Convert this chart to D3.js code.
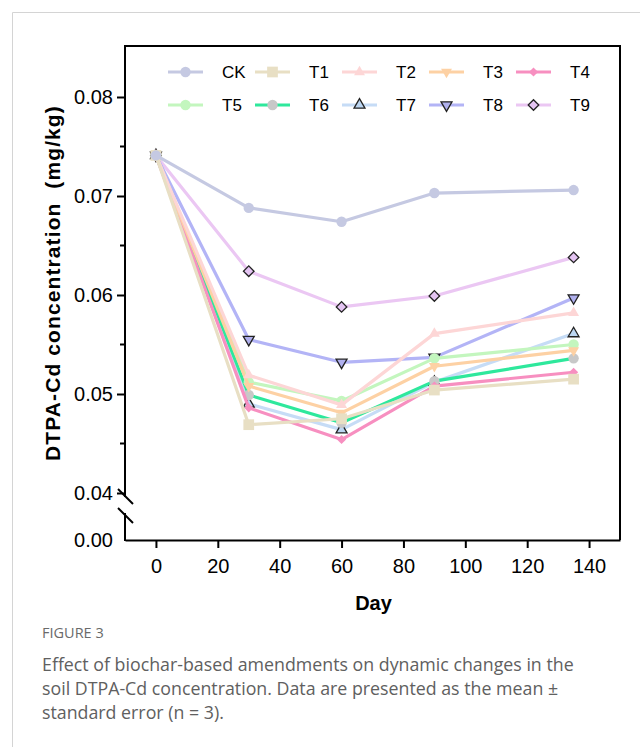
<!DOCTYPE html>
<html>
<head>
<meta charset="utf-8">
<script src="https://cdn.jsdelivr.net/npm/d3@7"></script>
<style>
  body { margin: 0; background: #fff; }
  svg { display: block; }
</style>
</head>
<body>
<svg id="chart" width="640" height="747"></svg>
<script>
// ---- data ----
const days = [0, 30, 60, 90, 135];
const seriesNames = ["CK", "T1", "T2", "T3", "T4", "T5", "T6", "T7", "T8", "T9"];
const ckValues = [0.0741, 0.0688, 0.0674, 0.0703, 0.0706];
const t1Values = [0.0741, 0.0469, 0.0475, 0.0504, 0.0515];
const t2Values = [0.0741, 0.0519, 0.0489, 0.0561, 0.0582];
const t3Values = [0.0741, 0.0508, 0.0481, 0.0528, 0.0544];
const t4Values = [0.0741, 0.0486, 0.0454, 0.0508, 0.0522];
const t5Values = [0.0741, 0.0512, 0.0493, 0.0536, 0.0550];
const t6Values = [0.0741, 0.0499, 0.0471, 0.0513, 0.0536];
const t7Values = [0.0741, 0.0490, 0.0464, 0.0512, 0.0561];
const t8Values = [0.0741, 0.0555, 0.0532, 0.0537, 0.0597];
const t9Values = [0.0741, 0.0624, 0.0588, 0.0599, 0.0638];
const seriesValues = [ckValues, t1Values, t2Values, t3Values, t4Values,
                      t5Values, t6Values, t7Values, t8Values, t9Values];
const xTickValues = [0, 20, 40, 60, 80, 100, 120, 140];
const yTickValues = [0.04, 0.05, 0.06, 0.07, 0.08];
const yMinorValues = [0.045, 0.055, 0.065, 0.075];
const yLowTickValues = [0];

// ---- styles ----
const lineColors = ["#c5c9e2", "#e8dfc4", "#fdd6d6", "#fdd1a4", "#f78fc0",
                    "#c3f6be", "#2ee89c", "#c6dcf6", "#b3b4f6", "#ebc7f3"];
const markerFill = ["#c5c9e2", "#e8dfc4", "#fdd6d6", "#fdd1a4", "#f78fc0",
                    "#c3f6be", "#c8c8c8", "#bcd6f2", "#b0b0ee", "#e4c4f2"];
const markerStroke = [null, null, null, null, null, null, null, "#222", "#222", "#222"];
const markerShape = ["circle", "square", "up", "down", "diamond",
                     "circle", "circle", "up", "down", "diamondOpen"];

const svg = d3.select("#chart");
const font = "'Liberation Sans', Arial, sans-serif";

// outer figure frame
svg.append("path")
  .attr("d", "M12.5,747 V12.5 H640")
  .attr("fill", "none").attr("stroke", "#d4d4d4").attr("stroke-width", 1);

// ---- plot geometry ----
const plotLeft = 125, plotRight = 620, plotTop = 46, plotBottom = 540;
const breakTop = 497, breakBottom = 513;

const x = d3.scaleLinear().domain([-10, 150]).range([plotLeft, plotRight]);
const y = d3.scaleLinear().domain([0.04, 0.08]).range([493, 97]);
const yLow = d3.scaleLinear().domain([0, 0.003]).range([plotBottom, breakBottom]);

// frame lines (top, right)
svg.append("path")
  .attr("d", `M${plotLeft},${plotTop} H${plotRight} V${plotBottom}`)
  .attr("fill", "none").attr("stroke", "#000").attr("stroke-width", 2);

// x axis
const xAxis = svg.append("g")
  .attr("transform", `translate(0,${plotBottom})`)
  .call(d3.axisBottom(x).tickValues(xTickValues).tickSize(8).tickPadding(11).tickSizeOuter(0));
xAxis.select(".domain").attr("stroke-width", 2);
xAxis.selectAll(".tick line").attr("stroke-width", 2);
xAxis.selectAll("text").attr("font-family", font).attr("font-size", 20).attr("fill", "#000");

// upper y axis
const yAxis = svg.append("g")
  .attr("transform", `translate(${plotLeft},0)`)
  .call(d3.axisLeft(y).tickValues(yTickValues).tickFormat(d3.format(".2f")).tickSize(8).tickPadding(4).tickSizeOuter(0));
yAxis.select(".domain").remove();
yAxis.selectAll(".tick line").attr("stroke-width", 2);
yAxis.selectAll("text").attr("font-family", font).attr("font-size", 20).attr("fill", "#000");

// minor ticks
svg.append("g").selectAll("line").data(yMinorValues).join("line")
  .attr("x1", plotLeft - 5).attr("x2", plotLeft)
  .attr("y1", d => y(d)).attr("y2", d => y(d))
  .attr("stroke", "#000").attr("stroke-width", 2);

// lower y axis
const yAxisLow = svg.append("g")
  .attr("transform", `translate(${plotLeft},0)`)
  .call(d3.axisLeft(yLow).tickValues(yLowTickValues).tickFormat(d3.format(".2f")).tickSize(0).tickPadding(12).tickSizeOuter(0));
yAxisLow.select(".domain").remove();
yAxisLow.selectAll("text").attr("font-family", font).attr("font-size", 20).attr("fill", "#000");

// y axis line segments with break
svg.append("line").attr("x1", plotLeft).attr("x2", plotLeft).attr("y1", plotTop - 1).attr("y2", breakTop)
  .attr("stroke", "#000").attr("stroke-width", 2);
svg.append("line").attr("x1", plotLeft).attr("x2", plotLeft).attr("y1", breakBottom).attr("y2", plotBottom + 1)
  .attr("stroke", "#000").attr("stroke-width", 2);
[489, 508].forEach(y0 => {
  svg.append("line").attr("x1", plotLeft - 7).attr("x2", plotLeft + 8)
    .attr("y1", y0).attr("y2", y0 + 15)
    .attr("stroke", "#000").attr("stroke-width", 2);
});

// axis titles
svg.append("text")
  .attr("transform", `translate(60,283) rotate(-90)`)
  .attr("text-anchor", "middle")
  .attr("font-family", font).attr("font-size", 21).attr("font-weight", "bold")
  .attr("letter-spacing", 1.1)
  .attr("xml:space", "preserve")
  .text("DTPA-Cd concentration  (mg/kg)");
svg.append("text")
  .attr("x", (plotLeft + plotRight) / 2 + 1).attr("y", 610)
  .attr("text-anchor", "middle")
  .attr("font-family", font).attr("font-size", 20).attr("font-weight", "bold")
  .text("Day");

// markers
function symbolPath(shape) {
  if (shape === "circle") return d3.symbol(d3.symbolCircle, 85)();
  if (shape === "square") return d3.symbol(d3.symbolSquare, 115)();
  if (shape === "up" || shape === "down") return d3.symbol(d3.symbolTriangle, 52)();
  if (shape === "diamond") return d3.symbol(d3.symbolSquare, 42)();
  if (shape === "diamondOpen") return d3.symbol(d3.symbolSquare, 56)();
}
function symbolRotate(shape) {
  if (shape === "down") return " rotate(180)";
  if (shape === "diamond" || shape === "diamondOpen") return " rotate(45)";
  return "";
}

// series (last series drawn first so the control sits on top)
const line = d3.line().x(d => x(d[0])).y(d => y(d[1]));
const plot = svg.append("g");
d3.range(seriesNames.length).reverse().forEach(i => {
  const pts = days.map((d, j) => [d, seriesValues[i][j]]);
  const g = plot.append("g");
  g.append("path").datum(pts)
    .attr("d", line)
    .attr("fill", "none").attr("stroke", lineColors[i]).attr("stroke-width", 3.2)
    .attr("stroke-linejoin", "round");
  g.selectAll("path.m").data(pts).join("path").attr("class", "m")
    .attr("d", symbolPath(markerShape[i]))
    .attr("transform", d => `translate(${x(d[0])},${y(d[1])})${symbolRotate(markerShape[i])}`)
    .attr("fill", markerFill[i])
    .attr("stroke", markerStroke[i] || "none")
    .attr("stroke-width", 1.3);
});

// legend
const legend = svg.append("g");
seriesNames.forEach((name, i) => {
  const col = i % 5, row = Math.floor(i / 5);
  const lx = 168 + col * 87, ly = 72 + row * 33;
  legend.append("line").attr("x1", lx).attr("x2", lx + 35).attr("y1", ly).attr("y2", ly)
    .attr("stroke", lineColors[i]).attr("stroke-width", 3.2);
  legend.append("path").attr("d", symbolPath(markerShape[i]))
    .attr("transform", `translate(${lx + 17.5},${ly})${symbolRotate(markerShape[i])}`)
    .attr("fill", markerFill[i])
    .attr("stroke", markerStroke[i] || "none").attr("stroke-width", 1.3);
  legend.append("text").attr("x", lx + 54).attr("y", ly + 6)
    .attr("font-family", font).attr("font-size", 17).attr("fill", "#000")
    .text(name);
});

// caption
const capFont = "'Open Sans', 'Noto Sans', sans-serif";
svg.append("text").attr("x", 42).attr("y", 638)
  .attr("font-family", capFont).attr("font-size", 14.5).attr("fill", "#6a6a6a")
  .text("FIGURE 3");
const capLines = [
  "Effect of biochar-based amendments on dynamic changes in the",
  "soil DTPA-Cd concentration. Data are presented as the mean ±",
  "standard error (n = 3)."
];
svg.append("g").selectAll("text").data(capLines).join("text")
  .attr("x", 42).attr("y", (d, i) => 671 + i * 24)
  .attr("font-family", capFont).attr("font-size", 17.8).attr("fill", "#606060")
  .text(d => d);
</script>
</body>
</html>
